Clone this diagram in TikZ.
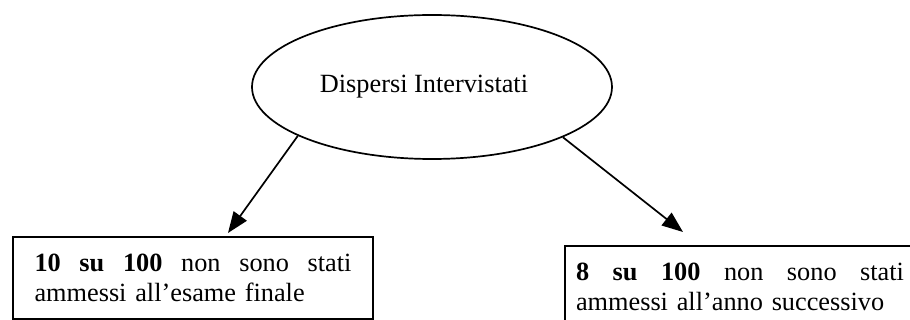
\documentclass[tikz,border=0pt]{standalone}
\usepackage{fontspec}
\setmainfont{Liberation Serif}
\usetikzlibrary{arrows.meta,shapes.geometric}
\begin{document}
\begin{tikzpicture}[x=1pt,y=-1pt,
  txt/.style={font=\fontsize{26.3pt}{29.5pt}\selectfont},
  ellnode/.style={draw, line width=1.7pt, ellipse, minimum width=360pt, minimum height=144pt, inner sep=0pt, txt},
  boxnode/.style={draw, line width=2pt, anchor=north west, align=left, inner ysep=17.5pt, txt},
  conn/.style={line width=1.7pt, -{Triangle[length=21pt,width=16pt]}}
]
\useasboundingbox (0,0) rectangle (910,320);
\clip (0,0) rectangle (910,320);
\node[ellnode] (ell) at (432,87) {Dispersi Intervistati\hspace*{16pt}};
\node[boxnode, text width=317pt, inner xsep=21.5pt] (lbox) at (12,236)
  {\textbf{10}\hfill\textbf{su}\hfill\textbf{100}\hfill non\hfill sono\hfill stati\\ammessi all’esame finale};
\node[boxnode, text width=328pt, inner xsep=11pt] (rbox) at (564,245)
  {\textbf{8}\hfill\textbf{su}\hfill\textbf{100}\hfill non\hfill sono\hfill stati\\ammessi all’anno successivo};
\coordinate (lt) at (228,233);
\coordinate (rt) at (683,232);
\draw[conn] (ell.200.5) -- (lt);
\draw[conn] (ell.339.8) -- (rt);
\end{tikzpicture}
\end{document}
